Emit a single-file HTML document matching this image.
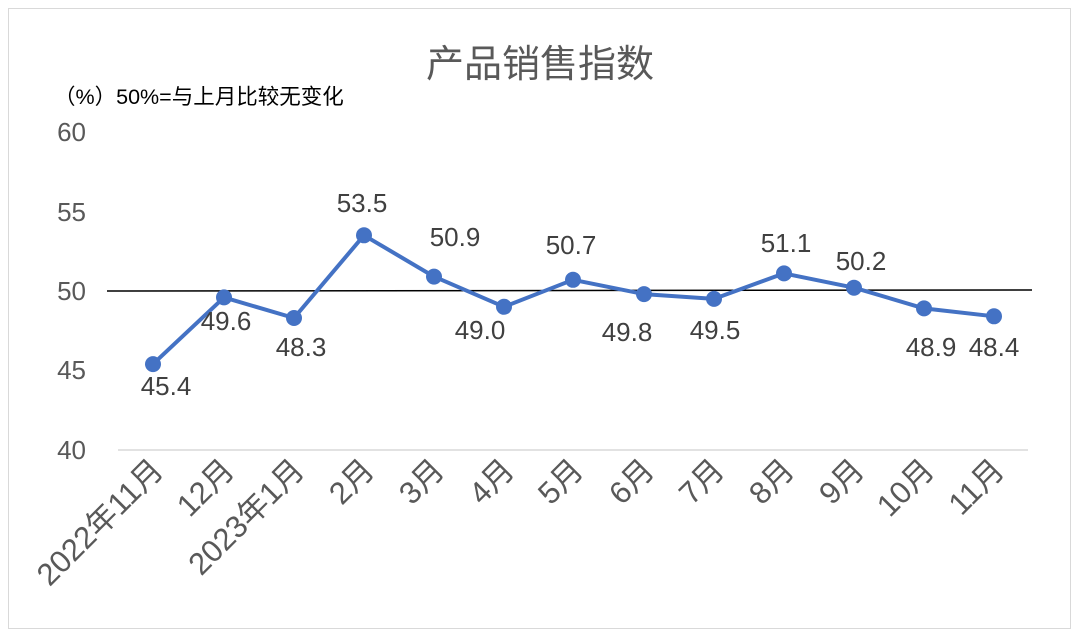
<!DOCTYPE html>
<html><head><meta charset="utf-8"><style>
html,body{margin:0;padding:0;background:#fff;}
svg{display:block;font-family:"Liberation Sans","Noto Sans CJK SC",sans-serif;}
</style></head><body>
<svg width="1080" height="641" viewBox="0 0 1080 641">
<rect x="0" y="0" width="1080" height="641" fill="#fff"/>
<rect x="8.5" y="8.5" width="1062" height="620" fill="none" stroke="#d9d9d9" stroke-width="1"/>
<text x="540" y="77" text-anchor="middle" font-size="38" fill="#595959">产品销售指数</text>
<text x="54" y="104" font-size="21.5" fill="#000">（%）50%=与上月比较无变化</text>
<g font-size="26" fill="#595959" text-anchor="end">
<text x="86" y="141">60</text>
<text x="86" y="221">55</text>
<text x="86" y="300">50</text>
<text x="86" y="379">45</text>
<text x="86" y="459">40</text>
</g>
<line x1="118" y1="450" x2="1028" y2="450" stroke="#d9d9d9" stroke-width="1.5"/>
<line x1="107" y1="291" x2="1032" y2="290" stroke="#000" stroke-width="1.5"/>
<polyline fill="none" stroke="#4472C4" stroke-width="4" stroke-linejoin="round"
points="153,364.1 224,297.4 294,318.0 364,235.3 434,276.6 504,306.8 573,279.8 644,294.1 714,298.9 784,273.4 854,287.7 924,308.4 994,316.3"/>
<g fill="#4472C4">
<circle cx="153" cy="364.1" r="8"/><circle cx="224" cy="297.4" r="8"/><circle cx="294" cy="318.0" r="8"/>
<circle cx="364" cy="235.3" r="8"/><circle cx="434" cy="276.6" r="8"/><circle cx="504" cy="306.8" r="8"/>
<circle cx="573" cy="279.8" r="8"/><circle cx="644" cy="294.1" r="8"/><circle cx="714" cy="298.9" r="8"/>
<circle cx="784" cy="273.4" r="8"/><circle cx="854" cy="287.7" r="8"/><circle cx="924" cy="308.4" r="8"/>
<circle cx="994" cy="316.3" r="8"/>
</g>
<g font-size="26" fill="#404040" text-anchor="middle">
<text x="166" y="395">45.4</text>
<text x="226" y="330">49.6</text>
<text x="301" y="356">48.3</text>
<text x="362" y="212">53.5</text>
<text x="455" y="246">50.9</text>
<text x="480" y="339">49.0</text>
<text x="571" y="254">50.7</text>
<text x="627" y="341">49.8</text>
<text x="715" y="339">49.5</text>
<text x="786" y="252">51.1</text>
<text x="861" y="270">50.2</text>
<text x="931" y="356">48.9</text>
<text x="994" y="356">48.4</text>
</g>
<g font-size="31" fill="#595959" text-anchor="end">
<text transform="translate(165,472) rotate(-45)">2022年11月</text>
<text transform="translate(236,472) rotate(-45)">12月</text>
<text transform="translate(306,472) rotate(-45)">2023年1月</text>
<text transform="translate(376,472) rotate(-45)">2月</text>
<text transform="translate(446,472) rotate(-45)">3月</text>
<text transform="translate(516,472) rotate(-45)">4月</text>
<text transform="translate(585,472) rotate(-45)">5月</text>
<text transform="translate(656,472) rotate(-45)">6月</text>
<text transform="translate(726,472) rotate(-45)">7月</text>
<text transform="translate(796,472) rotate(-45)">8月</text>
<text transform="translate(866,472) rotate(-45)">9月</text>
<text transform="translate(936,472) rotate(-45)">10月</text>
<text transform="translate(1006,472) rotate(-45)">11月</text>
</g>
</svg>
</body></html>
